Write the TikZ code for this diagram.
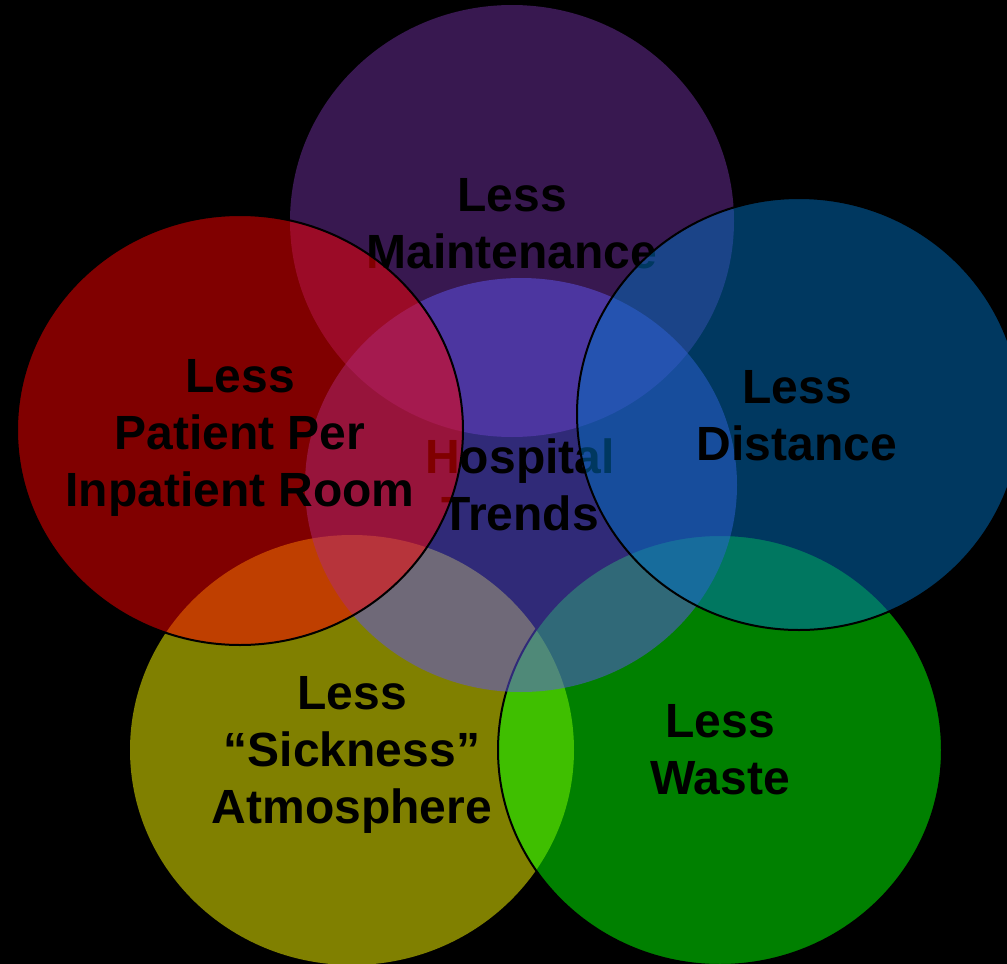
\documentclass[tikz,border=0pt]{standalone}
\usepackage{fontspec}
\setmainfont{Liberation Sans}
\definecolor{cPurple}{RGB}{112,48,160}
\definecolor{cCenter}{RGB}{96,84,240}
\definecolor{cRed}{RGB}{255,0,0}
\definecolor{cBlue}{RGB}{0,112,192}
\definecolor{cYellow}{RGB}{255,255,0}
\definecolor{cGreen}{RGB}{0,255,0}
\tikzset{
  disc/.style={fill opacity=0.5, draw opacity=1},
  outlined/.style={draw=black, line width=2pt},
  lbl/.style={anchor=north, align=center, inner sep=0pt, text=black,
    font=\fontsize{48}{57}\selectfont\bfseries}
}
\begin{document}
\begin{tikzpicture}[x=1pt, y=-1pt]
\useasboundingbox (0,0) rectangle (1007,964);
\fill[black] (0,0) rectangle (1007,964);
% top purple
\fill[disc, fill=cPurple] (512,221) ellipse [x radius=222pt, y radius=216pt];
\node[lbl] (maint) at (512,178) {Less\\Maintenance};
% bottom-left olive
\fill[disc, fill=cYellow] (352,750) ellipse [x radius=222pt, y radius=215pt];
% bottom-right green
\path[disc, fill=cGreen, outlined] (720,750) ellipse [x radius=222pt, y radius=215pt];
% center
\fill[disc, fill=cCenter] (521,485) ellipse [x radius=216pt, y radius=207pt];
\node[lbl] (hosp) at (520,439) {Hospital\\Trends};
% left red
\path[disc, fill=cRed, outlined] (240,430) ellipse [x radius=223pt, y radius=215pt];
\node[lbl] (patient) at (240,359) {Less\\Patient Per\\Inpatient Room};
% right blue
\path[disc, fill=cBlue, outlined] (799,414) ellipse [x radius=222pt, y radius=216pt];
\node[lbl] (dist) at (797,370) {Less\\Distance};
% texts not covered
\node[lbl] (sick) at (352,676) {Less\\“Sickness”\\Atmosphere};
\node[lbl] (waste) at (720,704) {Less\\Waste};
\end{tikzpicture}
\end{document}
